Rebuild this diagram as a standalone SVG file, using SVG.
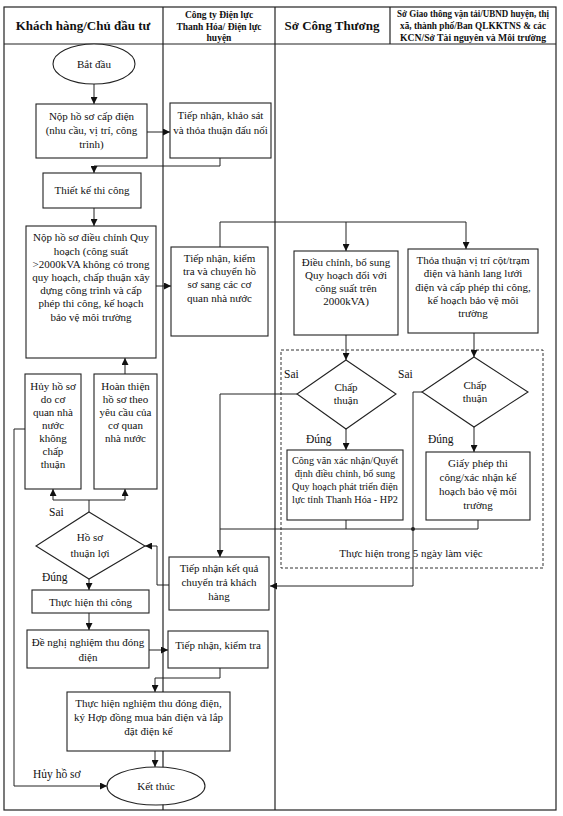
<svg xmlns="http://www.w3.org/2000/svg" width="563" height="816" viewBox="0 0 563 816">
<style>
text{font-family:"Liberation Serif","Times New Roman",serif;fill:#111;}
.t{font-size:11px;text-anchor:middle;}
.s{font-size:10.2px;text-anchor:middle;}
.h{font-size:13px;font-weight:bold;text-anchor:middle;}
.hs{font-size:9.5px;font-weight:bold;text-anchor:middle;}
.lb{font-size:11.5px;}
.box{fill:#fff;stroke:#222;stroke-width:1.1;}
.grid{fill:none;stroke:#222;stroke-width:1.2;}
.c{fill:none;stroke:#222;stroke-width:1;}
.dash{fill:none;stroke:#333;stroke-width:1;stroke-dasharray:3,2;}
</style>
<defs>
<marker id="a" viewBox="0 0 8 8" refX="8" refY="4" markerWidth="7" markerHeight="7" markerUnits="userSpaceOnUse" orient="auto">
<path d="M0,0 L8,4 L0,8 z" fill="#111"/>
</marker>
</defs>
<rect width="563" height="816" fill="#fff"/>
<g id="table">
<rect class="grid" x="4" y="7" width="552" height="803"/>
<line class="grid" x1="4" y1="44" x2="556" y2="44"/>
<line class="grid" x1="163" y1="7" x2="163" y2="810"/>
<line class="grid" x1="275" y1="7" x2="275" y2="810"/>
<line class="grid" x1="390" y1="7" x2="390" y2="44"/>
<text class="h" x="83" y="30">Khách hàng/Chủ đầu tư</text>
<text class="hs" x="219" y="18">Công ty Điện lực</text>
<text class="hs" x="219" y="29.5">Thanh Hóa/ Điện lực</text>
<text class="hs" x="219" y="41">huyện</text>
<text class="h" x="332" y="30">Sở Công Thương</text>
<text class="hs" x="473" y="17" textLength="152" lengthAdjust="spacingAndGlyphs">Sở Giao thông vận tải/UBND huyện, thị</text>
<text class="hs" x="473" y="29" textLength="146" lengthAdjust="spacingAndGlyphs">xã, thành phố/Ban QLKKTNS &amp; các</text>
<text class="hs" x="473" y="41" textLength="146" lengthAdjust="spacingAndGlyphs">KCN/Sở Tài nguyên và Môi trường</text>
</g>
<g id="zone5">
<rect class="dash" x="281" y="350" width="262" height="218"/>
<text class="t" x="411" y="557">Thực hiện trong 5 ngày làm việc</text>
</g>
<g id="connectors">
<path class="c" d="M94,84 V104" marker-end="url(#a)"/>
<path class="c" d="M147,132 H170" marker-end="url(#a)"/>
<path class="c" d="M220,158 V166 H94 V173" marker-end="url(#a)"/>
<path class="c" d="M94,208 V226" marker-end="url(#a)"/>
<path class="c" d="M156,286 H171" marker-end="url(#a)"/>
<path class="c" d="M220,247 V222 H466"/>
<path class="c" d="M346,222 V251" marker-end="url(#a)"/>
<path class="c" d="M466,222 V249" marker-end="url(#a)"/>
<path class="c" d="M346,335 V360" marker-end="url(#a)"/>
<path class="c" d="M474,333 V357" marker-end="url(#a)"/>
<path class="c" d="M346,429 V450" marker-end="url(#a)"/>
<path class="c" d="M474,427 V452" marker-end="url(#a)"/>
<path class="c" d="M297,394 H220 V557" marker-end="url(#a)"/>
<path class="c" d="M422,392 H413 V586 H270" marker-end="url(#a)"/>
<path class="c" d="M346,520 V529 H220"/>
<path class="c" d="M478,520 V529 H346"/>
<circle cx="413" cy="529" r="2" fill="#222"/>
<path class="c" d="M169,585 H157 V546 H145" marker-end="url(#a)"/>
<path class="c" d="M89,512 V500"/>
<path class="c" d="M53,500 H125"/>
<path class="c" d="M53,500 V489" marker-end="url(#a)"/>
<path class="c" d="M125,500 V489" marker-end="url(#a)"/>
<path class="c" d="M125,374 V358" marker-end="url(#a)"/>
<path class="c" d="M25,429 H14 V786 H107" marker-end="url(#a)"/>
<path class="c" d="M89,579 V590" marker-end="url(#a)"/>
<path class="c" d="M89,613 V630" marker-end="url(#a)"/>
<path class="c" d="M149,650 H168" marker-end="url(#a)"/>
<path class="c" d="M220,668 V678 H155 V692" marker-end="url(#a)"/>
<path class="c" d="M155,751 V767" marker-end="url(#a)"/>
<text class="lb" x="284" y="378">Sai</text>
<text class="lb" x="398" y="378">Sai</text>
<text class="lb" x="306" y="443">Đúng</text>
<text class="lb" x="428" y="443">Đúng</text>
<text class="lb" x="49" y="516">Sai</text>
<text class="lb" x="42" y="581">Đúng</text>
<text class="lb" x="33" y="778">Hủy hồ sơ</text>
</g>
<g id="start">
<ellipse class="box" cx="94" cy="64" rx="41" ry="20"/>
<text class="t" x="94" y="68">Bắt đầu</text>
</g>
<g id="nop-ho-so">
<rect class="box" x="36" y="104" width="111" height="54"/>
<text class="t" x="91.5" y="120">Nộp hồ sơ cấp điện</text>
<text class="t" x="91.5" y="134">(nhu cầu, vị trí, công</text>
<text class="t" x="91.5" y="148">trình)</text>
</g>
<g id="tiep-nhan-khao-sat">
<rect class="box" x="170" y="103" width="101" height="55"/>
<text class="t" x="220.5" y="119">Tiếp nhận, khảo sát</text>
<text class="t" x="220.5" y="134">và thỏa thuận đấu nối</text>
</g>
<g id="thiet-ke">
<rect class="box" x="43" y="173" width="98" height="35"/>
<text class="t" x="92" y="194">Thiết kế thi công</text>
</g>
<g id="nop-dieu-chinh">
<rect class="box" x="26" y="226" width="130" height="132"/>
<text class="t" x="91" y="241">Nộp hồ sơ điều chỉnh Quy</text>
<text class="t" x="91" y="255">hoạch (công suất</text>
<text class="t" x="91" y="268">&gt;2000kVA không có trong</text>
<text class="t" x="91" y="281">quy hoạch, chấp thuận xây</text>
<text class="t" x="91" y="294">dựng công trình và cấp</text>
<text class="t" x="91" y="307">phép thi công, kế hoạch</text>
<text class="t" x="91" y="321">bảo vệ môi trường</text>
</g>
<g id="tiep-nhan-chuyen">
<rect class="box" x="171" y="247" width="97" height="89"/>
<text class="t" x="219.5" y="262">Tiếp nhận, kiểm</text>
<text class="t" x="219.5" y="275">tra và chuyển hồ</text>
<text class="t" x="219.5" y="288">sơ sang các cơ</text>
<text class="t" x="219.5" y="302">quan nhà nước</text>
</g>
<g id="dieu-chinh-qh">
<rect class="box" x="294" y="251" width="104" height="84"/>
<text class="t" x="346" y="266">Điều chỉnh, bổ sung</text>
<text class="t" x="346" y="279">Quy hoạch đổi với</text>
<text class="t" x="346" y="292">công suất trên</text>
<text class="t" x="346" y="305">2000kVA)</text>
</g>
<g id="thoa-thuan">
<rect class="box" x="408" y="249" width="130" height="84"/>
<text class="t" x="473" y="264">Thỏa thuận vị trí cột/trạm</text>
<text class="t" x="473" y="277">điện và hành lang lưới</text>
<text class="t" x="473" y="291">điện và cấp phép thi công,</text>
<text class="t" x="473" y="304">kế hoạch bảo vệ môi</text>
<text class="t" x="473" y="317">trường</text>
</g>
<g id="chap-thuan-1">
<polygon class="box" points="346,360 396,394 346,429 297,394"/>
<text class="t" x="346" y="391">Chấp</text>
<text class="t" x="346" y="404">thuận</text>
</g>
<g id="chap-thuan-2">
<polygon class="box" points="474,357 528,392 474,427 422,392"/>
<text class="t" x="475" y="389">Chấp</text>
<text class="t" x="475" y="402">thuận</text>
</g>
<g id="cong-van">
<rect class="box" x="287" y="450" width="116" height="70"/>
<text class="s" x="345" y="464">Công văn xác nhận/Quyết</text>
<text class="s" x="345" y="477">định điều chỉnh, bổ sung</text>
<text class="s" x="345" y="490">Quy hoạch phát triển điện</text>
<text class="s" x="345" y="503">lực tỉnh Thanh Hóa - HP2</text>
</g>
<g id="giay-phep">
<rect class="box" x="426" y="452" width="104" height="68"/>
<text class="t" x="478" y="467">Giấy phép thi</text>
<text class="t" x="478" y="481">công/xác nhận kế</text>
<text class="t" x="478" y="495">hoạch bảo vệ môi</text>
<text class="t" x="478" y="509">trường</text>
</g>
<g id="huy-ho-so">
<rect class="box" x="25" y="374" width="56" height="115"/>
<text class="t" x="53" y="390">Hủy hồ sơ</text>
<text class="t" x="53" y="403">do cơ</text>
<text class="t" x="53" y="416">quan nhà</text>
<text class="t" x="53" y="429">nước</text>
<text class="t" x="53" y="442">không</text>
<text class="t" x="53" y="455">chấp</text>
<text class="t" x="53" y="468">thuận</text>
</g>
<g id="hoan-thien">
<rect class="box" x="94" y="374" width="63" height="115"/>
<text class="t" x="125.5" y="390">Hoàn thiện</text>
<text class="t" x="125.5" y="403">hồ sơ theo</text>
<text class="t" x="125.5" y="416">yêu cầu của</text>
<text class="t" x="125.5" y="429">cơ quan</text>
<text class="t" x="125.5" y="442">nhà nước</text>
</g>
<g id="ho-so-thuan-loi">
<polygon class="box" points="89,512 145,546 89,579 36,546"/>
<text class="t" x="90" y="541">Hồ sơ</text>
<text class="t" x="90" y="557">thuận lợi</text>
</g>
<g id="tiep-nhan-ket-qua">
<rect class="box" x="169" y="557" width="100" height="53"/>
<text class="t" x="219" y="572">Tiếp nhận kết quả</text>
<text class="t" x="219" y="586">chuyển trả khách</text>
<text class="t" x="219" y="600">hàng</text>
</g>
<g id="thuc-hien-thi-cong">
<rect class="box" x="32" y="590" width="117" height="23"/>
<text class="t" x="90.5" y="606">Thực hiện thi công</text>
</g>
<g id="de-nghi-nghiem-thu">
<rect class="box" x="27" y="630" width="122" height="38"/>
<text class="t" x="88" y="646">Đề nghị nghiệm thu đóng</text>
<text class="t" x="88" y="661">điện</text>
</g>
<g id="tiep-nhan-kiem-tra">
<rect class="box" x="168" y="631" width="100" height="37"/>
<text class="t" x="218" y="649">Tiếp nhận, kiểm tra</text>
</g>
<g id="thuc-hien-nghiem-thu">
<rect class="box" x="67" y="692" width="163" height="59"/>
<text class="t" x="148.5" y="707">Thực hiện nghiệm thu đóng điện,</text>
<text class="t" x="148.5" y="721">ký Hợp đồng mua bán điện và lắp</text>
<text class="t" x="148.5" y="735">đặt điện kế</text>
</g>
<g id="ket-thuc">
<ellipse class="box" cx="156" cy="786" rx="49" ry="19"/>
<text class="t" x="156" y="790">Kết thúc</text>
</g>
</svg>
